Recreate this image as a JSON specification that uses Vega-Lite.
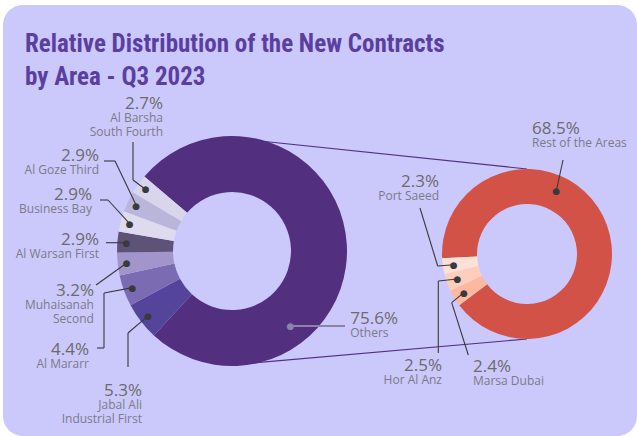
{
  "$schema": "https://vega.github.io/schema/vega-lite/v6.json",
  "width": 634,
  "height": 431,
  "autosize": {"type": "none"},
  "padding": {"left": 3, "top": 5, "right": 0, "bottom": 0},
  "background": "#ffffff",
  "config": {
    "view": {"fill": "#cbc8fc", "stroke": null, "cornerRadius": 20},
    "text": {"font": "Open Sans"},
    "rule": {"color": "#3a3a3a", "strokeWidth": 1.1}
  },
  "title": {
    "text": ["Relative Distribution of the New Contracts", "by Area - Q3 2023"],
    "anchor": "start",
    "frame": "group",
    "orient": "top",
    "baseline": "top",
    "offset": 0,
    "dx": 22,
    "dy": 85,
    "font": "Roboto Condensed, Liberation Sans Narrow, DejaVu Sans Condensed, Roboto",
    "fontSize": 25,
    "fontWeight": "bold",
    "color": "#5a3fa0",
    "lineHeight": 33
  },
  "data": {
    "values": [
      {"chart": "Total", "seq": 1, "name": "Others", "share": 0.756},
      {"chart": "Total", "seq": 2, "name": "Jabal Ali\nIndustrial First", "share": 0.053},
      {"chart": "Total", "seq": 3, "name": "Al Mararr", "share": 0.044},
      {"chart": "Total", "seq": 4, "name": "Muhaisanah\nSecond", "share": 0.032},
      {"chart": "Total", "seq": 5, "name": "Al Warsan First", "share": 0.029},
      {"chart": "Total", "seq": 6, "name": "Business Bay", "share": 0.029},
      {"chart": "Total", "seq": 7, "name": "Al Goze Third", "share": 0.029},
      {"chart": "Total", "seq": 8, "name": "Al Barsha\nSouth Fourth", "share": 0.027},
      {"chart": "Others", "seq": 1, "name": "Rest of the Areas", "share": 0.685},
      {"chart": "Others", "seq": 2, "name": "Marsa Dubai", "share": 0.024},
      {"chart": "Others", "seq": 3, "name": "Hor Al Anz", "share": 0.025},
      {"chart": "Others", "seq": 4, "name": "Port Saeed", "share": 0.023}
    ]
  },
  "encoding": {
    "x": {"field": "chart", "type": "nominal", "axis": null, "scale": {"type": "point", "padding": 0, "domain": ["Total", "Others"], "range": [229, 524]}},
    "y": {"field": "chart", "type": "nominal", "axis": null, "scale": {"type": "point", "padding": 0, "domain": ["Total", "Others"], "range": [246, 249]}}
  },
  "layer": [
    {
      "data": {"values": [{"from": "Total", "to": "Others"}]},
      "mark": {"type": "rule", "color": "#52307f", "strokeWidth": 1.2, "xOffset": 28, "yOffset": -110, "x2Offset": 0, "y2Offset": -85},
      "encoding": {
        "x": {"field": "from", "type": "nominal", "axis": null, "scale": {"type": "point", "padding": 0, "domain": ["Total", "Others"], "range": [229, 524]}},
        "x2": {"field": "to"},
        "y": {"field": "from", "type": "nominal", "axis": null, "scale": {"type": "point", "padding": 0, "domain": ["Total", "Others"], "range": [246, 249]}},
        "y2": {"field": "to"}
      }
    },
    {
      "data": {"values": [{"from": "Total", "to": "Others"}]},
      "mark": {"type": "rule", "color": "#52307f", "strokeWidth": 1.2, "xOffset": 21, "yOffset": 112, "x2Offset": 0, "y2Offset": 85},
      "encoding": {
        "x": {"field": "from", "type": "nominal", "axis": null, "scale": {"type": "point", "padding": 0, "domain": ["Total", "Others"], "range": [229, 524]}},
        "x2": {"field": "to"},
        "y": {"field": "from", "type": "nominal", "axis": null, "scale": {"type": "point", "padding": 0, "domain": ["Total", "Others"], "range": [246, 249]}},
        "y2": {"field": "to"}
      }
    },
    {
      "transform": [{"filter": "datum.chart === 'Total'"}],
      "mark": {"type": "arc", "innerRadius": 59, "outerRadius": 115},
      "encoding": {
        "theta": {"field": "share", "type": "quantitative", "stack": true, "scale": {"range": [-0.8664, 5.4168]}},
        "color": {"field": "name", "type": "nominal", "legend": null, "scale": {
          "domain": ["Others", "Jabal Ali\nIndustrial First", "Al Mararr", "Muhaisanah\nSecond", "Al Warsan First", "Business Bay", "Al Goze Third", "Al Barsha\nSouth Fourth", "Rest of the Areas", "Marsa Dubai", "Hor Al Anz", "Port Saeed"],
          "range": ["#52307f", "#54449b", "#7a6bb3", "#a195cb", "#5f5278", "#dedbef", "#bab5da", "#d9d6ec", "#d35247", "#fdb99f", "#fecebd", "#fee0d7"]}},
        "order": {"field": "seq", "type": "quantitative"}
      }
    },
    {
      "transform": [{"filter": "datum.chart === 'Others'"}],
      "mark": {"type": "arc", "innerRadius": 50, "outerRadius": 85},
      "encoding": {
        "theta": {"field": "share", "type": "quantitative", "stack": true, "scale": {"range": [-1.6211, 4.6621]}},
        "color": {"field": "name", "type": "nominal", "legend": null, "scale": {
          "domain": ["Others", "Jabal Ali\nIndustrial First", "Al Mararr", "Muhaisanah\nSecond", "Al Warsan First", "Business Bay", "Al Goze Third", "Al Barsha\nSouth Fourth", "Rest of the Areas", "Marsa Dubai", "Hor Al Anz", "Port Saeed"],
          "range": ["#52307f", "#54449b", "#7a6bb3", "#a195cb", "#5f5278", "#dedbef", "#bab5da", "#d9d6ec", "#d35247", "#fdb99f", "#fecebd", "#fee0d7"]}},
        "order": {"field": "seq", "type": "quantitative"}
      }
    },
    {"transform": [{"filter": "datum.name === 'Al Barsha\\nSouth Fourth'"}], "mark": {"type": "rule", "xOffset": -86.3, "yOffset": -61.5, "x2Offset": -99, "y2Offset": -71}, "encoding": {"x2": {"field": "chart"}, "y2": {"field": "chart"}}},
    {"transform": [{"filter": "datum.name === 'Al Barsha\\nSouth Fourth'"}], "mark": {"type": "rule", "xOffset": -99, "yOffset": -71, "x2Offset": -99, "y2Offset": -109}, "encoding": {"x2": {"field": "chart"}, "y2": {"field": "chart"}}},
    {"transform": [{"filter": "datum.name === 'Al Goze Third'"}], "mark": {"type": "rule", "xOffset": -95.7, "yOffset": -45.5, "x2Offset": -117, "y2Offset": -90}, "encoding": {"x2": {"field": "chart"}, "y2": {"field": "chart"}}},
    {"transform": [{"filter": "datum.name === 'Al Goze Third'"}], "mark": {"type": "rule", "xOffset": -117, "yOffset": -90, "x2Offset": -128, "y2Offset": -90}, "encoding": {"x2": {"field": "chart"}, "y2": {"field": "chart"}}},
    {"transform": [{"filter": "datum.name === 'Business Bay'"}], "mark": {"type": "rule", "xOffset": -102.4, "yOffset": -27.4, "x2Offset": -124, "y2Offset": -51}, "encoding": {"x2": {"field": "chart"}, "y2": {"field": "chart"}}},
    {"transform": [{"filter": "datum.name === 'Business Bay'"}], "mark": {"type": "rule", "xOffset": -124, "yOffset": -51, "x2Offset": -132, "y2Offset": -51}, "encoding": {"x2": {"field": "chart"}, "y2": {"field": "chart"}}},
    {"transform": [{"filter": "datum.name === 'Al Warsan First'"}], "mark": {"type": "rule", "xOffset": -105.7, "yOffset": -8.3, "x2Offset": -126, "y2Offset": -8.3}, "encoding": {"x2": {"field": "chart"}, "y2": {"field": "chart"}}},
    {"transform": [{"filter": "datum.name === 'Muhaisanah\\nSecond'"}], "mark": {"type": "rule", "xOffset": -105.3, "yOffset": 12, "x2Offset": -136, "y2Offset": 34}, "encoding": {"x2": {"field": "chart"}, "y2": {"field": "chart"}}},
    {"transform": [{"filter": "datum.name === 'Al Mararr'"}], "mark": {"type": "rule", "xOffset": -99.5, "yOffset": 36.6, "x2Offset": -128, "y2Offset": 42}, "encoding": {"x2": {"field": "chart"}, "y2": {"field": "chart"}}},
    {"transform": [{"filter": "datum.name === 'Al Mararr'"}], "mark": {"type": "rule", "xOffset": -128, "yOffset": 42, "x2Offset": -128, "y2Offset": 97}, "encoding": {"x2": {"field": "chart"}, "y2": {"field": "chart"}}},
    {"transform": [{"filter": "datum.name === 'Al Mararr'"}], "mark": {"type": "rule", "xOffset": -128, "yOffset": 97, "x2Offset": -135, "y2Offset": 97}, "encoding": {"x2": {"field": "chart"}, "y2": {"field": "chart"}}},
    {"transform": [{"filter": "datum.name === 'Jabal Ali\\nIndustrial First'"}], "mark": {"type": "rule", "xOffset": -83.9, "yOffset": 64.8, "x2Offset": -104, "y2Offset": 82}, "encoding": {"x2": {"field": "chart"}, "y2": {"field": "chart"}}},
    {"transform": [{"filter": "datum.name === 'Jabal Ali\\nIndustrial First'"}], "mark": {"type": "rule", "xOffset": -104, "yOffset": 82, "x2Offset": -104, "y2Offset": 116}, "encoding": {"x2": {"field": "chart"}, "y2": {"field": "chart"}}},
    {"transform": [{"filter": "datum.name === 'Rest of the Areas'"}], "mark": {"type": "rule", "xOffset": 29.2, "yOffset": -62.5, "x2Offset": 36, "y2Offset": -94}, "encoding": {"x2": {"field": "chart"}, "y2": {"field": "chart"}}},
    {"transform": [{"filter": "datum.name === 'Port Saeed'"}], "mark": {"type": "rule", "xOffset": -73.2, "yOffset": 10.8, "x2Offset": -89.3, "y2Offset": 12}, "encoding": {"x2": {"field": "chart"}, "y2": {"field": "chart"}}},
    {"transform": [{"filter": "datum.name === 'Port Saeed'"}], "mark": {"type": "rule", "xOffset": -89.3, "yOffset": 12, "x2Offset": -107, "y2Offset": -46}, "encoding": {"x2": {"field": "chart"}, "y2": {"field": "chart"}}},
    {"transform": [{"filter": "datum.name === 'Hor Al Anz'"}], "mark": {"type": "rule", "xOffset": -69.6, "yOffset": 25, "x2Offset": -88.7, "y2Offset": 27}, "encoding": {"x2": {"field": "chart"}, "y2": {"field": "chart"}}},
    {"transform": [{"filter": "datum.name === 'Hor Al Anz'"}], "mark": {"type": "rule", "xOffset": -88.7, "yOffset": 27, "x2Offset": -88.7, "y2Offset": 99}, "encoding": {"x2": {"field": "chart"}, "y2": {"field": "chart"}}},
    {"transform": [{"filter": "datum.name === 'Marsa Dubai'"}], "mark": {"type": "rule", "xOffset": -63.2, "yOffset": 38.6, "x2Offset": -75.3, "y2Offset": 48.7}, "encoding": {"x2": {"field": "chart"}, "y2": {"field": "chart"}}},
    {"transform": [{"filter": "datum.name === 'Marsa Dubai'"}], "mark": {"type": "rule", "xOffset": -75.3, "yOffset": 48.7, "x2Offset": -58.7, "y2Offset": 101}, "encoding": {"x2": {"field": "chart"}, "y2": {"field": "chart"}}},
    {"transform": [{"filter": "datum.name === 'Others'"}], "mark": {"type": "rule", "color": "#8a84a8", "strokeWidth": 2, "xOffset": 58.5, "x2Offset": 113, "yOffset": 74.9, "y2Offset": 74.9}, "encoding": {"x2": {"field": "chart"}, "y2": {"field": "chart"}}},
    {
      "transform": [{"filter": "datum.chart === 'Total'"}],
      "mark": {"type": "text", "radius": 106, "text": "●", "font": "DejaVu Sans", "fontSize": 9, "color": "#3a3a3a", "align": "center", "baseline": "middle"},
      "encoding": {
        "theta": {"field": "share", "type": "quantitative", "stack": true, "scale": {"range": [-0.8664, 5.4168]}},
        "detail": {"field": "name"},
        "order": {"field": "seq", "type": "quantitative"},
        "opacity": {"condition": {"test": "datum.name === 'Others'", "value": 0}, "value": 1}
      }
    },
    {
      "transform": [{"filter": "datum.chart === 'Others'"}],
      "mark": {"type": "text", "radius": 74, "text": "●", "font": "DejaVu Sans", "fontSize": 9, "color": "#3a3a3a", "align": "center", "baseline": "middle"},
      "encoding": {
        "theta": {"field": "share", "type": "quantitative", "stack": true, "scale": {"range": [-1.6211, 4.6621]}},
        "detail": {"field": "name"},
        "order": {"field": "seq", "type": "quantitative"},
        "opacity": {"condition": {"test": "datum.name === 'Rest of the Areas'", "value": 0}, "value": 1}
      }
    },
    {
      "transform": [{"filter": "datum.name === 'Rest of the Areas'"}],
      "mark": {"type": "text", "radius": 69, "text": "●", "font": "DejaVu Sans", "fontSize": 9, "color": "#3a3a3a", "align": "center", "baseline": "middle"},
      "encoding": {"theta": {"field": "share", "type": "quantitative", "stack": true, "scale": {"range": [0.4363, 0.4363]}}}
    },
    {
      "transform": [{"filter": "datum.name === 'Others'"}],
      "mark": {"type": "text", "radius": 95, "text": "●", "font": "DejaVu Sans", "fontSize": 9, "color": "#8a84a8", "align": "center", "baseline": "middle"},
      "encoding": {"theta": {"field": "share", "type": "quantitative", "stack": true, "scale": {"range": [2.4784, 2.4784]}}}
    },
    {"transform": [{"filter": "datum.name === 'Al Barsha\\nSouth Fourth'"}], "mark": {"type": "text", "radius": 157.9, "align": "right", "baseline": "alphabetic", "fontSize": 17, "color": "#6b6b6b"}, "encoding": {"theta": {"field": "share", "type": "quantitative", "stack": true, "scale": {"range": [5.8309, 5.8309]}}, "text": {"field": "share", "type": "quantitative", "format": ".1%"}}},
    {"transform": [{"filter": "datum.name === 'Al Barsha\\nSouth Fourth'"}], "mark": {"type": "text", "radius": 157.9, "align": "right", "baseline": "top", "dy": 4, "fontSize": 12, "lineHeight": 14, "lineBreak": "\n", "color": "#7b7b87"}, "encoding": {"theta": {"field": "share", "type": "quantitative", "stack": true, "scale": {"range": [5.8309, 5.8309]}}, "text": {"field": "name", "type": "nominal"}}},
    {"transform": [{"filter": "datum.name === 'Al Goze Third'"}], "mark": {"type": "text", "radius": 160.6, "align": "right", "baseline": "alphabetic", "fontSize": 17, "color": "#6b6b6b"}, "encoding": {"theta": {"field": "share", "type": "quantitative", "stack": true, "scale": {"range": [5.3072, 5.3072]}}, "text": {"field": "share", "type": "quantitative", "format": ".1%"}}},
    {"transform": [{"filter": "datum.name === 'Al Goze Third'"}], "mark": {"type": "text", "radius": 160.6, "align": "right", "baseline": "top", "dy": 4, "fontSize": 12, "lineHeight": 14, "lineBreak": "\n", "color": "#7b7b87"}, "encoding": {"theta": {"field": "share", "type": "quantitative", "stack": true, "scale": {"range": [5.3072, 5.3072]}}, "text": {"field": "name", "type": "nominal"}}},
    {"transform": [{"filter": "datum.name === 'Business Bay'"}], "mark": {"type": "text", "radius": 149.0, "align": "right", "baseline": "alphabetic", "fontSize": 17, "color": "#6b6b6b"}, "encoding": {"theta": {"field": "share", "type": "quantitative", "stack": true, "scale": {"range": [5.0616, 5.0616]}}, "text": {"field": "share", "type": "quantitative", "format": ".1%"}}},
    {"transform": [{"filter": "datum.name === 'Business Bay'"}], "mark": {"type": "text", "radius": 149.0, "align": "right", "baseline": "top", "dy": 4, "fontSize": 12, "lineHeight": 14, "lineBreak": "\n", "color": "#7b7b87"}, "encoding": {"theta": {"field": "share", "type": "quantitative", "stack": true, "scale": {"range": [5.0616, 5.0616]}}, "text": {"field": "name", "type": "nominal"}}},
    {"transform": [{"filter": "datum.name === 'Al Warsan First'"}], "mark": {"type": "text", "radius": 133.1, "align": "right", "baseline": "alphabetic", "fontSize": 17, "color": "#6b6b6b"}, "encoding": {"theta": {"field": "share", "type": "quantitative", "stack": true, "scale": {"range": [4.7574, 4.7574]}}, "text": {"field": "share", "type": "quantitative", "format": ".1%"}}},
    {"transform": [{"filter": "datum.name === 'Al Warsan First'"}], "mark": {"type": "text", "radius": 133.1, "align": "right", "baseline": "top", "dy": 4, "fontSize": 12, "lineHeight": 14, "lineBreak": "\n", "color": "#7b7b87"}, "encoding": {"theta": {"field": "share", "type": "quantitative", "stack": true, "scale": {"range": [4.7574, 4.7574]}}, "text": {"field": "name", "type": "nominal"}}},
    {"transform": [{"filter": "datum.name === 'Muhaisanah\\nSecond'"}], "mark": {"type": "text", "radius": 145.2, "align": "right", "baseline": "alphabetic", "fontSize": 17, "color": "#6b6b6b"}, "encoding": {"theta": {"field": "share", "type": "quantitative", "stack": true, "scale": {"range": [4.3972, 4.3972]}}, "text": {"field": "share", "type": "quantitative", "format": ".1%"}}},
    {"transform": [{"filter": "datum.name === 'Muhaisanah\\nSecond'"}], "mark": {"type": "text", "radius": 145.2, "align": "right", "baseline": "top", "dy": 4, "fontSize": 12, "lineHeight": 14, "lineBreak": "\n", "color": "#7b7b87"}, "encoding": {"theta": {"field": "share", "type": "quantitative", "stack": true, "scale": {"range": [4.3972, 4.3972]}}, "text": {"field": "name", "type": "nominal"}}},
    {"transform": [{"filter": "datum.name === 'Al Mararr'"}], "mark": {"type": "text", "radius": 176.8, "align": "right", "baseline": "alphabetic", "fontSize": 17, "color": "#6b6b6b"}, "encoding": {"theta": {"field": "share", "type": "quantitative", "stack": true, "scale": {"range": [4.0837, 4.0837]}}, "text": {"field": "share", "type": "quantitative", "format": ".1%"}}},
    {"transform": [{"filter": "datum.name === 'Al Mararr'"}], "mark": {"type": "text", "radius": 176.8, "align": "right", "baseline": "top", "dy": 4, "fontSize": 12, "lineHeight": 14, "lineBreak": "\n", "color": "#7b7b87"}, "encoding": {"theta": {"field": "share", "type": "quantitative", "stack": true, "scale": {"range": [4.0837, 4.0837]}}, "text": {"field": "name", "type": "nominal"}}},
    {"transform": [{"filter": "datum.name === 'Jabal Ali\\nIndustrial First'"}], "mark": {"type": "text", "radius": 170.7, "align": "right", "baseline": "alphabetic", "fontSize": 17, "color": "#6b6b6b"}, "encoding": {"theta": {"field": "share", "type": "quantitative", "stack": true, "scale": {"range": [3.6971, 3.6971]}}, "text": {"field": "share", "type": "quantitative", "format": ".1%"}}},
    {"transform": [{"filter": "datum.name === 'Jabal Ali\\nIndustrial First'"}], "mark": {"type": "text", "radius": 170.7, "align": "right", "baseline": "top", "dy": 4, "fontSize": 12, "lineHeight": 14, "lineBreak": "\n", "color": "#7b7b87"}, "encoding": {"theta": {"field": "share", "type": "quantitative", "stack": true, "scale": {"range": [3.6971, 3.6971]}}, "text": {"field": "name", "type": "nominal"}}},
    {"transform": [{"filter": "datum.name === 'Others'"}], "mark": {"type": "text", "radius": 139, "align": "left", "baseline": "alphabetic", "fontSize": 17, "color": "#6b6b6b"}, "encoding": {"theta": {"field": "share", "type": "quantitative", "stack": true, "scale": {"range": [2.1241, 2.1241]}}, "text": {"field": "share", "type": "quantitative", "format": ".1%"}}},
    {"transform": [{"filter": "datum.name === 'Others'"}], "mark": {"type": "text", "radius": 139, "align": "left", "baseline": "top", "dy": 4, "fontSize": 12, "color": "#7b7b87"}, "encoding": {"theta": {"field": "share", "type": "quantitative", "stack": true, "scale": {"range": [2.1241, 2.1241]}}, "text": {"field": "name", "type": "nominal"}}},
    {"transform": [{"filter": "datum.name === 'Rest of the Areas'"}], "mark": {"type": "text", "radius": 120.1, "align": "left", "baseline": "alphabetic", "fontSize": 17, "color": "#6b6b6b"}, "encoding": {"theta": {"field": "share", "type": "quantitative", "stack": true, "scale": {"range": [0.0419, 0.0419]}}, "text": {"field": "share", "type": "quantitative", "format": ".1%"}}},
    {"transform": [{"filter": "datum.name === 'Rest of the Areas'"}], "mark": {"type": "text", "radius": 120.1, "align": "left", "baseline": "top", "dy": 4, "fontSize": 12, "color": "#7b7b87"}, "encoding": {"theta": {"field": "share", "type": "quantitative", "stack": true, "scale": {"range": [0.0419, 0.0419]}}, "text": {"field": "name", "type": "nominal"}}},
    {"transform": [{"filter": "datum.name === 'Port Saeed'"}], "mark": {"type": "text", "radius": 110.6, "align": "right", "baseline": "alphabetic", "fontSize": 17, "color": "#6b6b6b"}, "encoding": {"theta": {"field": "share", "type": "quantitative", "stack": true, "scale": {"range": [5.3634, 5.3634]}}, "text": {"field": "share", "type": "quantitative", "format": ".1%"}}},
    {"transform": [{"filter": "datum.name === 'Port Saeed'"}], "mark": {"type": "text", "radius": 110.6, "align": "right", "baseline": "top", "dy": 4, "fontSize": 12, "color": "#7b7b87"}, "encoding": {"theta": {"field": "share", "type": "quantitative", "stack": true, "scale": {"range": [5.3634, 5.3634]}}, "text": {"field": "name", "type": "nominal"}}},
    {"transform": [{"filter": "datum.name === 'Hor Al Anz'"}], "mark": {"type": "text", "radius": 144.6, "align": "right", "baseline": "alphabetic", "fontSize": 17, "color": "#6b6b6b"}, "encoding": {"theta": {"field": "share", "type": "quantitative", "stack": true, "scale": {"range": [3.7699, 3.7699]}}, "text": {"field": "share", "type": "quantitative", "format": ".1%"}}},
    {"transform": [{"filter": "datum.name === 'Hor Al Anz'"}], "mark": {"type": "text", "radius": 144.6, "align": "right", "baseline": "top", "dy": 4, "fontSize": 12, "color": "#7b7b87"}, "encoding": {"theta": {"field": "share", "type": "quantitative", "stack": true, "scale": {"range": [3.7699, 3.7699]}}, "text": {"field": "name", "type": "nominal"}}},
    {"transform": [{"filter": "datum.name === 'Marsa Dubai'"}], "mark": {"type": "text", "radius": 129.8, "align": "left", "baseline": "alphabetic", "fontSize": 17, "color": "#6b6b6b"}, "encoding": {"theta": {"field": "share", "type": "quantitative", "stack": true, "scale": {"range": [3.5709, 3.5709]}}, "text": {"field": "share", "type": "quantitative", "format": ".1%"}}},
    {"transform": [{"filter": "datum.name === 'Marsa Dubai'"}], "mark": {"type": "text", "radius": 129.8, "align": "left", "baseline": "top", "dy": 4, "fontSize": 12, "color": "#7b7b87"}, "encoding": {"theta": {"field": "share", "type": "quantitative", "stack": true, "scale": {"range": [3.5709, 3.5709]}}, "text": {"field": "name", "type": "nominal"}}}
  ],
  "resolve": {"scale": {"theta": "independent"}}
}
